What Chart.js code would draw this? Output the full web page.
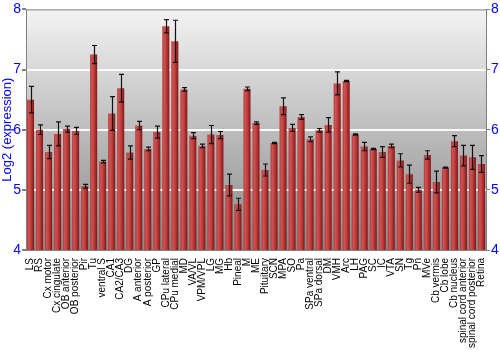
<!DOCTYPE html>
<html>
<head>
<meta charset="utf-8">
<script src="https://cdn.jsdelivr.net/npm/chart.js@4.4.0/dist/chart.umd.min.js"></script>
<style>
html,body{margin:0;padding:0;background:#fff;}
#wrap{width:500px;height:350px;}
</style>
</head>
<body>
<div id="wrap"><canvas id="c" width="500" height="350"></canvas></div>
<script>
const categories = ["LS","RS","Cx motor","Cx cingulate","OB anterior","OB posterior","Pir","Tu","ventral S","CA1","CA2/CA3","DG","A anterior","A posterior","GP","CPu lateral","CPu medial","MD","VA/VL","VPM/VPL","LG","MG","Hb","Pineal","M","ME","Pituitary","SCN","MPA","SO","Pa","SPa ventral","SPa dorsal","DM","VMH","Arc","LH","PAG","SC","IC","VTA","SN","Tg","Pn","MVe","Cb vermis","Cb lobe","Cb nucleus","spinal cord anterior","spinal cord posterior","Retina"];
const expression = [6.50,6.00,5.63,5.93,6.01,5.98,5.06,7.25,5.47,6.27,6.69,5.62,6.07,5.68,5.96,7.72,7.47,6.67,5.90,5.73,5.92,5.91,5.08,4.76,6.68,6.11,5.33,5.78,6.39,6.03,6.21,5.84,5.99,6.08,6.77,6.81,5.92,5.72,5.68,5.63,5.73,5.49,5.26,5.00,5.58,5.13,5.37,5.81,5.57,5.54,5.43];
const errors = [0.22,0.08,0.11,0.20,0.05,0.06,0.03,0.15,0.02,0.28,0.23,0.11,0.07,0.03,0.10,0.11,0.35,0.03,0.05,0.03,0.15,0.06,0.18,0.10,0.03,0.02,0.10,0.01,0.14,0.06,0.04,0.04,0.03,0.12,0.19,0.01,0.01,0.07,0.01,0.09,0.03,0.11,0.15,0.04,0.07,0.18,0.01,0.09,0.17,0.20,0.14];
const yTicks = [4,5,6,7,8];

const BAR_PCT = 0.78;

function barGradient(ctx){
  const chart = ctx.chart;
  const xs = chart.scales && chart.scales.x;
  if (!xs || ctx.dataIndex === undefined) return '#b53535';
  const cx = xs.getPixelForValue(ctx.dataIndex);
  const w = (xs.width / categories.length) * BAR_PCT;
  if (!isFinite(cx) || !isFinite(w) || w <= 0) return '#b53535';
  const g = chart.ctx.createLinearGradient(cx - w/2, 0, cx + w/2, 0);
  g.addColorStop(0, '#b23a3a');
  g.addColorStop(0.25, '#d05252');
  g.addColorStop(0.55, '#bf3d3d');
  g.addColorStop(1, '#7e1717');
  return g;
}

const bgPlugin = {
  id: 'bgGrad',
  beforeDraw(chart){
    const {ctx, chartArea:a} = chart;
    const g = ctx.createLinearGradient(0, a.top, 0, a.bottom);
    g.addColorStop(0, '#f3f3f3');
    g.addColorStop(1, '#878787');
    ctx.save();
    ctx.fillStyle = g;
    ctx.fillRect(a.left, a.top, a.right - a.left, a.bottom - a.top);
    ctx.restore();
  },
  afterDraw(chart){
    const {ctx, chartArea:a} = chart;
    ctx.save();
    ctx.strokeStyle = '#808080';
    ctx.lineWidth = 1;
    ctx.beginPath();
    ctx.moveTo(a.left, a.top + 0.5);
    ctx.lineTo(a.right, a.top + 0.5);
    ctx.stroke();
    ctx.restore();
  }
};

const errPlugin = {
  id: 'errBars',
  afterDatasetsDraw(chart){
    const ctx = chart.ctx;
    const ys = chart.scales.y;
    const meta = chart.getDatasetMeta(0);
    ctx.save();
    ctx.strokeStyle = '#111';
    ctx.lineWidth = 1.2;
    meta.data.forEach((bar, i) => {
      const v = expression[i], e = errors[i];
      const x = Math.round(bar.x) + 0.5;
      const t = ys.getPixelForValue(v + e);
      const b = ys.getPixelForValue(v - e);
      ctx.beginPath();
      ctx.moveTo(x, t); ctx.lineTo(x, b);
      ctx.moveTo(x - 2.5, t); ctx.lineTo(x + 2.5, t);
      ctx.moveTo(x - 2.5, b); ctx.lineTo(x + 2.5, b);
      ctx.stroke();
    });
    ctx.restore();
  }
};

const gridColor = (c) => (c.tick && c.tick.value > 4 && c.tick.value < 8) ? 'rgba(255,255,255,0.9)' : 'rgba(0,0,0,0)';

new Chart(document.getElementById('c'), {
  type: 'bar',
  data: {
    labels: categories,
    datasets: [{
      data: expression,
      backgroundColor: barGradient,
      borderWidth: 0,
      barPercentage: BAR_PCT,
      categoryPercentage: 1.0
    }]
  },
  options: {
    responsive: false,
    animation: false,
    devicePixelRatio: 1,
    layout: { padding: { top: 9, right: 0, left: 0, bottom: 0 } },
    plugins: { legend: { display: false }, tooltip: { enabled: false } },
    scales: {
      x: {
        afterFit: (s) => { s.height = 100; },
        grid: { display: false },
        border: { display: true, color: '#808080' },
        ticks: {
          autoSkip: false, minRotation: 90, maxRotation: 90,
          color: '#000', padding: 0,
          font: { family: 'Liberation Sans, Arial, sans-serif', size: 10 }
        }
      },
      y: {
        position: 'left',
        min: 4, max: 8,
        afterFit: (s) => { s.width = 26; },
        afterBuildTicks: (s) => { s.ticks = yTicks.map(v => ({value: v})); },
        grid: { color: gridColor, lineWidth: 2, tickLength: 4, tickColor: '#808080', drawTicks: true },
        border: { display: true, color: '#808080' },
        ticks: { color: '#0000ff', padding: 1, font: { family: 'Liberation Sans, Arial, sans-serif', size: 14 } },
        title: { display: true, text: 'Log2 (expression)', color: '#0000ff', padding: 0,
          font: { family: 'Liberation Sans, Arial, sans-serif', size: 13 } }
      },
      y2: {
        position: 'right',
        min: 4, max: 8,
        afterFit: (s) => { s.width = 14; },
        afterBuildTicks: (s) => { s.ticks = yTicks.map(v => ({value: v})); },
        grid: { drawOnChartArea: false, tickLength: 4, tickColor: '#808080' },
        border: { display: true, color: '#808080' },
        ticks: { color: '#0000ff', padding: 1, font: { family: 'Liberation Sans, Arial, sans-serif', size: 14 } }
      }
    }
  },
  plugins: [bgPlugin, errPlugin]
});
</script>
</body>
</html>
